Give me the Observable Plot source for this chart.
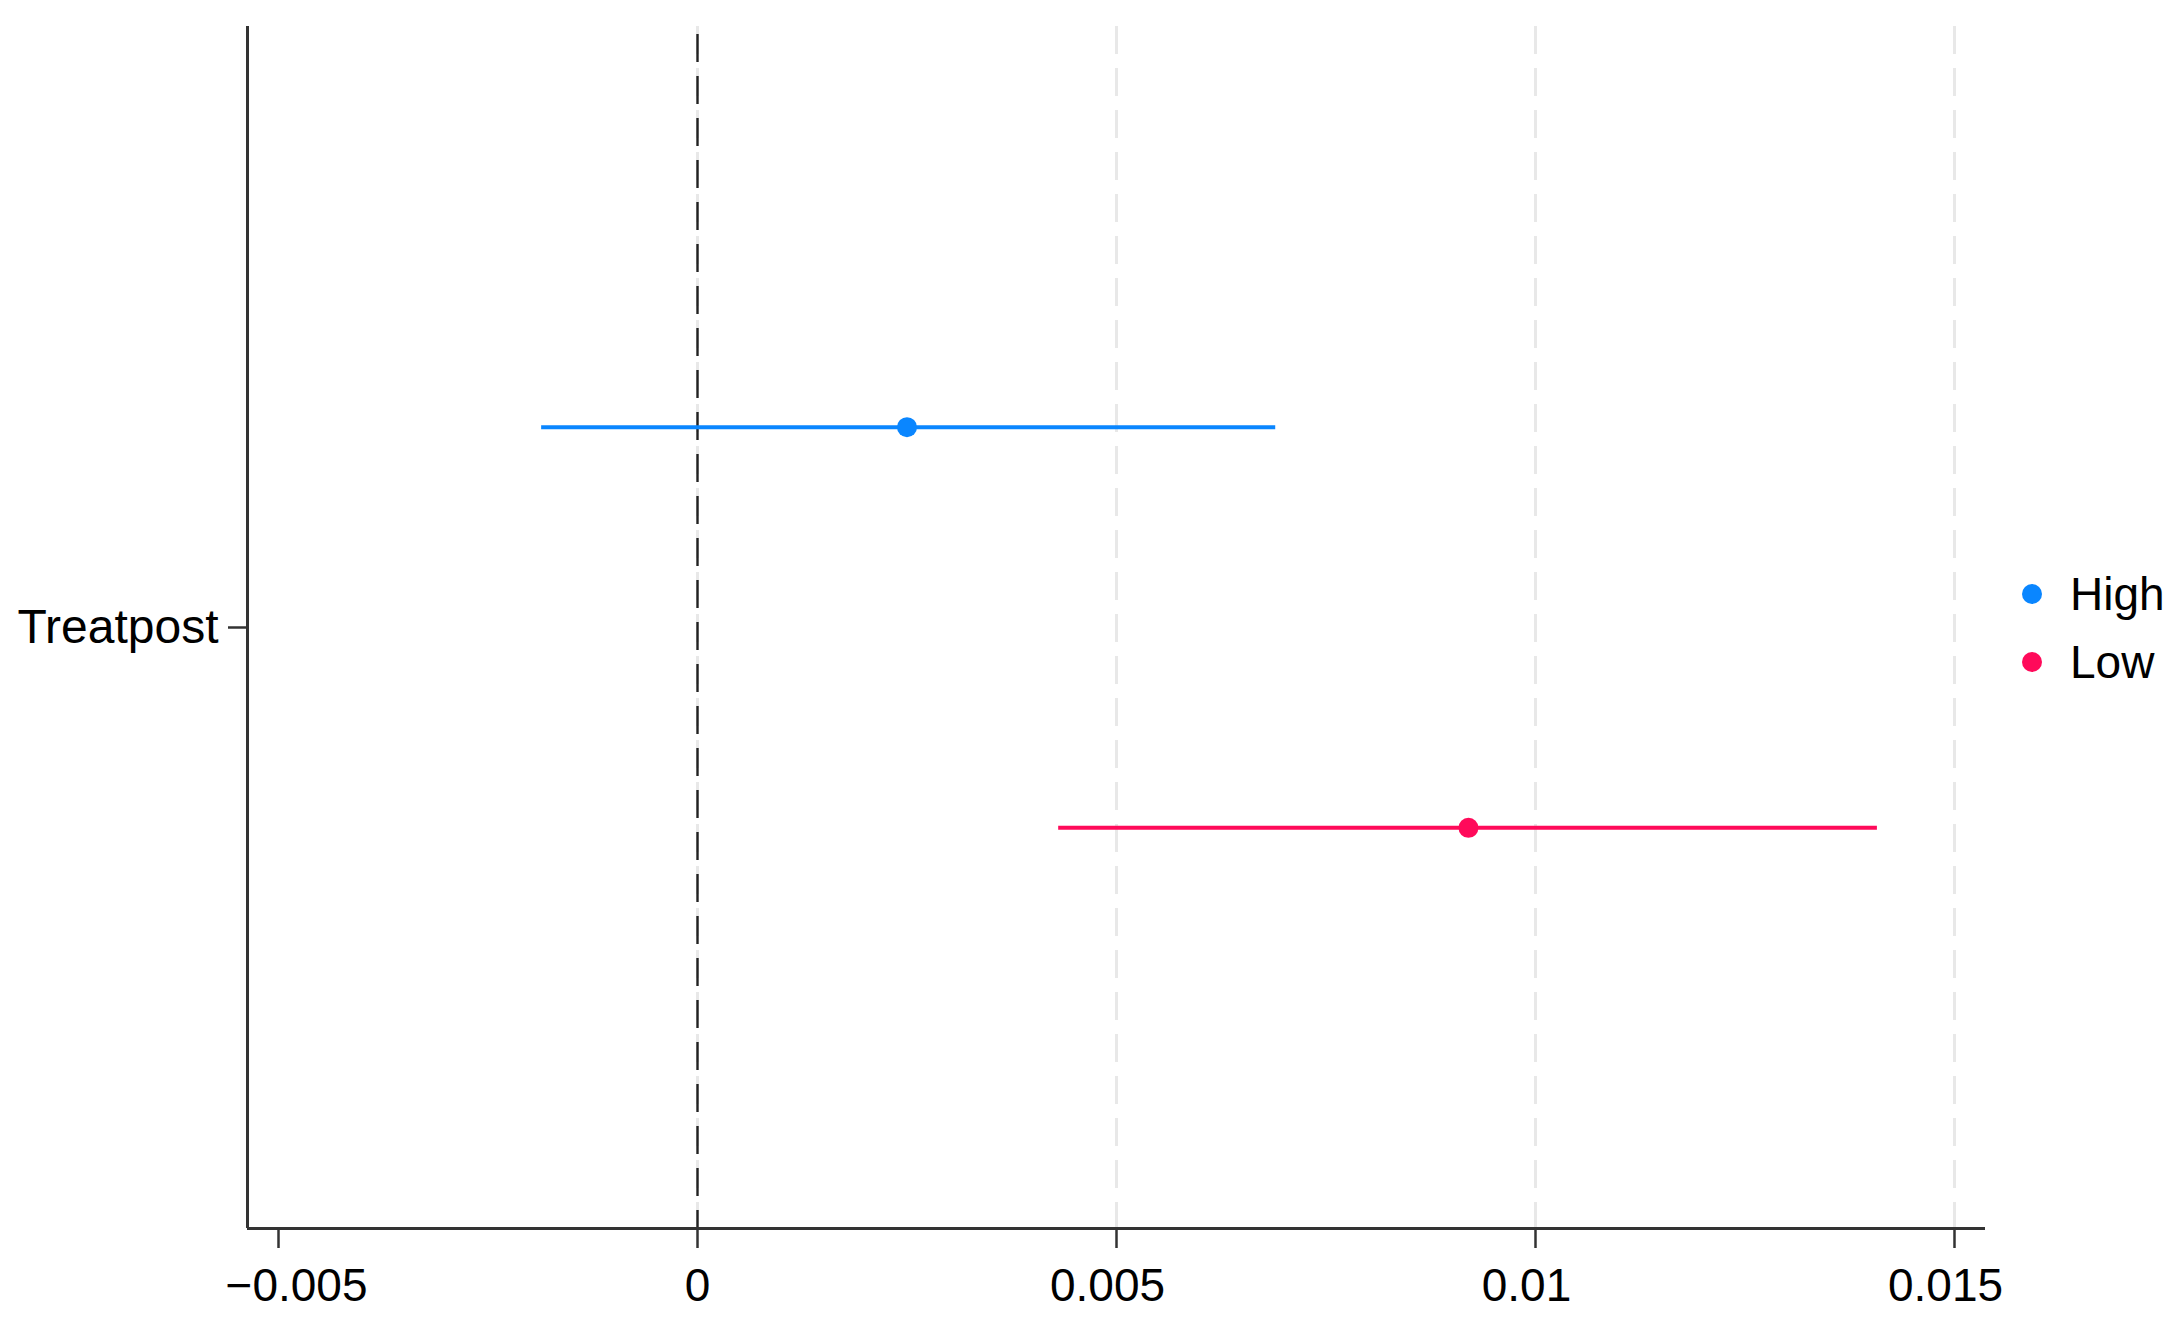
<!DOCTYPE html>
<html>
<head>
<meta charset="utf-8">
<script src="https://cdn.jsdelivr.net/npm/d3@7"></script>
<script src="https://cdn.jsdelivr.net/npm/@observablehq/plot@0.6"></script>
<style>
  html, body { margin: 0; padding: 0; background: #fff; }
  #wrap { position: relative; width: 2182px; height: 1322px; font-family: "Liberation Sans", Arial, sans-serif; }
  .leg { position: absolute; left: 2022px; height: 60px; display: flex; align-items: center; font-size: 46px; color: #000; }
  .leg .sw { width: 20px; height: 20px; border-radius: 50%; margin-right: 28px; }
</style>
</head>
<body>
<div id="wrap"></div>
<script>
// ---- data ----
const termLabel = "Treatpost";
const groups = ["High", "Low"];
const estimates = [0.0025, 0.0092];
const lowerCI = [-0.00186, 0.00431];
const upperCI = [0.0069, 0.01408];
const groupColors = ["#0a86ff", "#ff0a5a"];
const xTicks = [-0.005, 0, 0.005, 0.01, 0.015];
const xTickLabels = ["\u22120.005", "0", "0.005", "0.01", "0.015"];
const gridTicks = [0, 0.005, 0.01, 0.015];
const xDomain = [-0.00537, 0.01537];

// rows: each group gets its own slot on a linear y scale (top = first group)
const rows = groups.map((g, i) => ({
  group: g,
  slot: groups.length - i,
  est: estimates[i],
  lo: lowerCI[i],
  hi: upperCI[i],
  color: groupColors[i]
}));
const termSlot = d3.mean(rows, d => d.slot);
const labelOf = d => xTickLabels[xTicks.indexOf(d)];
const negTicks = xTicks.filter(d => d < 0);
const zeroTicks = xTicks.filter(d => d === 0);
const posTicks = xTicks.filter(d => d > 0);

const chart = Plot.plot({
  width: 2182,
  height: 1322,
  marginLeft: 247,
  marginRight: 197,
  marginTop: 26,
  marginBottom: 94,
  style: { fontFamily: "'Liberation Sans', Arial, sans-serif", fontSize: "46px", color: "#000", background: "#fff" },
  x: { domain: xDomain },
  y: { domain: [0, groups.length + 1] },
  marks: [
    Plot.ruleX(gridTicks, { stroke: "#e8e8e8", strokeWidth: 3, strokeDasharray: "28,14" }),
    Plot.ruleX([0], { stroke: "#222", strokeWidth: 2.4, strokeDasharray: "28,14", strokeDashoffset: -8 }),
    Plot.ruleY(rows, { y: "slot", x1: "lo", x2: "hi", stroke: "color", strokeWidth: 4 }),
    Plot.dot(rows, { x: "est", y: "slot", r: 10, fill: "color", stroke: null }),
    Plot.ruleX([xDomain[0]], { stroke: "#333", strokeWidth: 3 }),
    Plot.ruleY([0], { stroke: "#333", strokeWidth: 3 }),
    // tick marks only
    Plot.axisX({ ticks: xTicks, tickSize: 20, tickFormat: () => "", stroke: "#333", strokeWidth: 2.5, label: null }),
    // tick labels (Stata-like placement)
    Plot.axisX({ ticks: negTicks, tickSize: 0, tickPadding: 40, tickFormat: labelOf, label: null, dx: 18 }),
    Plot.axisX({ ticks: zeroTicks, tickSize: 0, tickPadding: 40, tickFormat: labelOf, label: null }),
    Plot.axisX({ ticks: posTicks, tickSize: 0, tickPadding: 40, tickFormat: labelOf, label: null, dx: -9 }),
    Plot.axisY({
      ticks: [termSlot],
      tickFormat: () => termLabel,
      tickSize: 19,
      tickPadding: 10,
      stroke: "#333",
      strokeWidth: 2.5,
      fontSize: 48,
      label: null
    })
  ]
});

const wrap = document.getElementById("wrap");
wrap.appendChild(chart);

// legend (HTML, placed in the right margin)
const legendCenters = [594, 662];
groups.forEach((g, i) => {
  const row = document.createElement("div");
  row.className = "leg";
  row.style.top = (legendCenters[i] - 30) + "px";
  const sw = document.createElement("span");
  sw.className = "sw";
  sw.style.background = groupColors[i];
  const t = document.createElement("span");
  t.textContent = g;
  row.appendChild(sw);
  row.appendChild(t);
  wrap.appendChild(row);
});
</script>
</body>
</html>
